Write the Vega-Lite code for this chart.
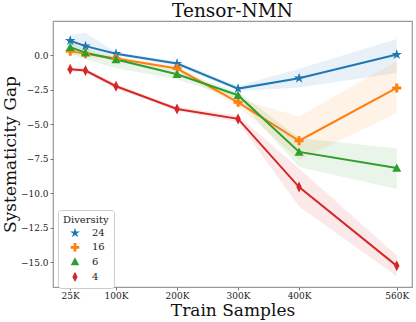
{
  "$schema": "https://vega.github.io/schema/vega-lite/v6.json",
  "width": 359,
  "height": 266,
  "autosize": {"type": "none"},
  "padding": {"left": 53, "top": 21, "right": 4, "bottom": 35},
  "title": {"text": "Tensor-NMN", "font": "DejaVu Serif", "fontSize": 18.5, "fontWeight": "normal", "color": "#111", "offset": 1},
  "config": {
    "view": {"stroke": "#999", "strokeWidth": 1.2},
    "font": "DejaVu Serif",
    "axis": {"grid": false, "domain": false, "labelFont": "DejaVu Serif", "titleFont": "DejaVu Serif", "labelColor": "#222", "titleColor": "#111", "titleFontWeight": "normal", "tickColor": "#777", "labelFontSize": 9, "titleFontSize": 17}
  },
  "data": {
    "values": [
      {"n": 25000, "diversity": "24", "gap": 1.03, "lo": 0.65, "hi": 1.45},
      {"n": 50000, "diversity": "24", "gap": 0.64, "lo": 0.3, "hi": 1.6},
      {"n": 100000, "diversity": "24", "gap": 0.09, "lo": -0.05, "hi": 0.2},
      {"n": 200000, "diversity": "24", "gap": -0.62, "lo": -0.8, "hi": -0.45},
      {"n": 300000, "diversity": "24", "gap": -2.43, "lo": -2.6, "hi": -2.25},
      {"n": 400000, "diversity": "24", "gap": -1.68, "lo": -2.35, "hi": -1.0},
      {"n": 560000, "diversity": "24", "gap": 0.03, "lo": -1.3, "hi": 1.15},
      {"n": 25000, "diversity": "16", "gap": 0.28, "lo": 0.05, "hi": 0.5},
      {"n": 50000, "diversity": "16", "gap": 0.09, "lo": -0.1, "hi": 0.3},
      {"n": 100000, "diversity": "16", "gap": -0.25, "lo": -0.4, "hi": -0.1},
      {"n": 200000, "diversity": "16", "gap": -0.98, "lo": -1.2, "hi": -0.8},
      {"n": 300000, "diversity": "16", "gap": -3.42, "lo": -3.7, "hi": -3.15},
      {"n": 400000, "diversity": "16", "gap": -6.2, "lo": -7.6, "hi": -4.45},
      {"n": 560000, "diversity": "16", "gap": -2.38, "lo": -4.2, "hi": -0.45},
      {"n": 25000, "diversity": "6", "gap": 0.57, "lo": 0.05, "hi": 0.95},
      {"n": 50000, "diversity": "6", "gap": 0.16, "lo": -0.3, "hi": 0.45},
      {"n": 100000, "diversity": "6", "gap": -0.33, "lo": -0.95, "hi": -0.1},
      {"n": 200000, "diversity": "6", "gap": -1.39, "lo": -1.75, "hi": -1.15},
      {"n": 300000, "diversity": "6", "gap": -2.91, "lo": -3.2, "hi": -2.65},
      {"n": 400000, "diversity": "6", "gap": -7.01, "lo": -8.1, "hi": -6.0},
      {"n": 560000, "diversity": "6", "gap": -8.18, "lo": -9.7, "hi": -6.75},
      {"n": 25000, "diversity": "4", "gap": -1.03, "lo": -1.2, "hi": -0.88},
      {"n": 50000, "diversity": "4", "gap": -1.12, "lo": -1.28, "hi": -0.97},
      {"n": 100000, "diversity": "4", "gap": -2.26, "lo": -2.42, "hi": -2.1},
      {"n": 200000, "diversity": "4", "gap": -3.9, "lo": -4.05, "hi": -3.75},
      {"n": 300000, "diversity": "4", "gap": -4.62, "lo": -4.85, "hi": -4.4},
      {"n": 400000, "diversity": "4", "gap": -9.55, "lo": -10.95, "hi": -8.2},
      {"n": 560000, "diversity": "4", "gap": -15.25, "lo": -16.0, "hi": -14.5}
    ]
  },
  "encoding": {
    "x": {
      "field": "n", "type": "quantitative",
      "scale": {"domain": [-3200, 585000], "nice": false, "zero": false},
      "axis": {"title": "Train Samples", "values": [25000, 100000, 200000, 300000, 400000, 560000], "labelExpr": "(datum.value/1000) + 'K'", "tickSize": 3, "labelPadding": 1, "titlePadding": 2, "labelFlush": false}
    },
    "color": {
      "field": "diversity", "type": "nominal",
      "scale": {"domain": ["24", "16", "6", "4"], "range": ["#1f77b4", "#ff7f0e", "#2ca02c", "#d62728"]},
      "legend": {
        "title": "Diversity", "orient": "none", "legendX": 5, "legendY": 189,
        "padding": 5, "fillColor": "white", "strokeColor": "#ccc", "cornerRadius": 3,
        "titleFont": "DejaVu Serif", "titleFontSize": 10, "titleFontWeight": "normal", "titleColor": "#222", "titlePadding": 3,
        "labelFont": "DejaVu Serif", "labelFontSize": 10, "labelColor": "#222",
        "symbolSize": 90, "symbolOpacity": 1, "symbolStrokeWidth": 0, "symbolOffset": 7, "labelOffset": 12, "rowPadding": 4.3
      }
    }
  },
  "layer": [
    {
      "mark": {"type": "area", "opacity": 0.1},
      "encoding": {
        "y": {"field": "lo", "type": "quantitative"},
        "y2": {"field": "hi"}
      }
    },
    {
      "mark": {"type": "rule", "color": "#666", "strokeWidth": 1.2},
      "encoding": {"y": {"datum": 0}, "color": {"value": "#666"}}
    },
    {
      "mark": {"type": "line", "strokeWidth": 2},
      "encoding": {
        "y": {
          "field": "gap", "type": "quantitative",
          "scale": {"domain": [-16.78, 2.46], "nice": false, "zero": false},
          "axis": {"title": "Systematicity Gap", "values": [0, -2.5, -5, -7.5, -10, -12.5, -15], "labelExpr": "replace(format(datum.value, '.1f'), '-', '\u2212')", "tickSize": 3, "labelPadding": 2, "titlePadding": 1}
        }
      }
    },
    {
      "mark": {"type": "point", "filled": true, "opacity": 1, "size": 100},
      "encoding": {
        "y": {"field": "gap", "type": "quantitative"},
        "shape": {
          "field": "diversity", "type": "nominal",
          "scale": {"domain": ["24", "16", "6", "4"], "range": [
            "M0,-1.1L0.25,-0.34L1.05,-0.34L0.4,0.13L0.65,0.89L0,0.42L-0.65,0.89L-0.4,0.13L-1.05,-0.34L-0.25,-0.34Z",
            "M-0.3,-0.9H0.3V-0.3H0.9V0.3H0.3V0.9H-0.3V0.3H-0.9V-0.3H-0.3Z",
            "M0,-0.9L0.9,0.75L-0.9,0.75Z",
            "M0,-1.1L0.55,0L0,1.1L-0.55,0Z"
          ]},
          "legend": null
        }
      }
    }
  ]
}
